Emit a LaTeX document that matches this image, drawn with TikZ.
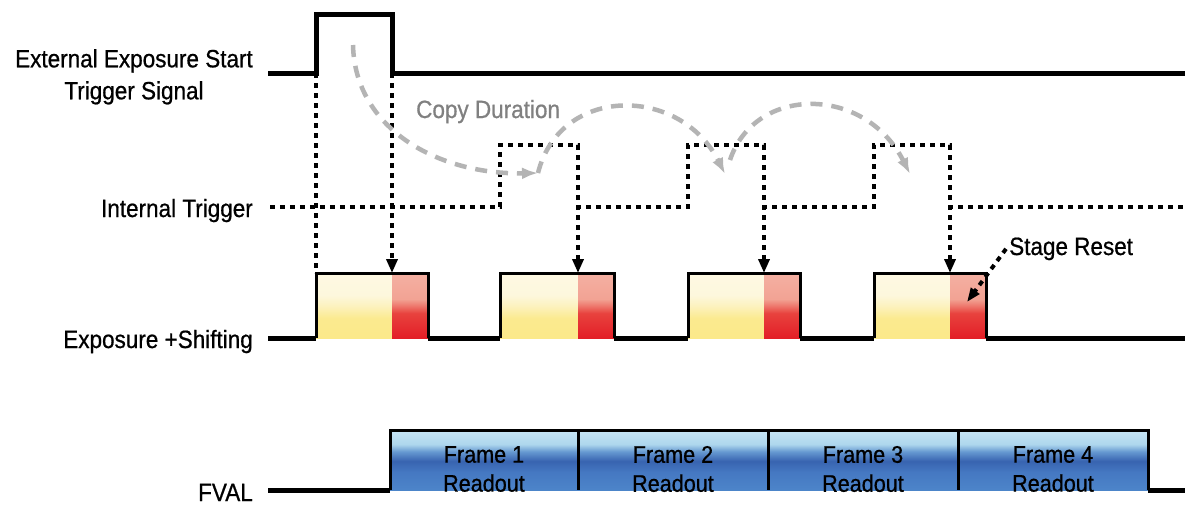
\documentclass[tikz,border=0pt]{standalone}
\usepackage{fontspec}
\setmainfont[FakeStretch=0.9,FakeBold=0.7]{Liberation Sans}
\usetikzlibrary{arrows.meta}
\definecolor{arcgray}{RGB}{180,180,180}
\definecolor{copytext}{RGB}{128,128,128}
\pgfdeclareverticalshading{yshade}{100bp}{rgb(0bp)=(0.984,0.914,0.541); rgb(25bp)=(0.984,0.914,0.541); rgb(40bp)=(0.984,0.918,0.560); rgb(50bp)=(0.988,0.949,0.753); rgb(58bp)=(0.992,0.969,0.866); rgb(75bp)=(0.996,0.976,0.890); rgb(100bp)=(0.996,0.976,0.890)}
\pgfdeclareverticalshading{rshade}{100bp}{rgb(0bp)=(0.890,0.118,0.149); rgb(25bp)=(0.890,0.118,0.149); rgb(44bp)=(0.910,0.259,0.243); rgb(50bp)=(0.933,0.478,0.431); rgb(55bp)=(0.949,0.639,0.580); rgb(75bp)=(0.957,0.690,0.635); rgb(100bp)=(0.957,0.690,0.635)}
\pgfdeclareverticalshading{bshade}{100bp}{rgb(0bp)=(0.300,0.520,0.790); rgb(25bp)=(0.300,0.520,0.790); rgb(40bp)=(0.270,0.470,0.760); rgb(49bp)=(0.220,0.390,0.690); rgb(57bp)=(0.400,0.600,0.820); rgb(63bp)=(0.680,0.840,0.930); rgb(75bp)=(0.780,0.900,0.960); rgb(100bp)=(0.780,0.900,0.960)}
\begin{document}
\begin{tikzpicture}[x=1pt,y=-1pt,
  lbl/.style={inner sep=0pt, font=\fontsize{25}{32}\selectfont, text=black},
  ftxt/.style={inner sep=0pt, align=center, font=\fontsize{24}{29}\selectfont, text=black},
  sig/.style={line width=5pt, black, line join=miter},
  boxline/.style={line width=3pt, black, line join=miter},
  dotline/.style={line width=4pt, black, dash pattern=on 5pt off 5pt},
  tip/.style={-{Triangle[length=14pt,width=11pt]}},
  copyarc/.style={line width=4.5pt, draw=arcgray, dash pattern=on 12pt off 9pt, -{Latex[length=16pt,width=12pt]}},
  cell/.style={anchor=north west, inner sep=0pt, outer sep=0pt, minimum height=65pt},
  ybox/.style={cell, shading=yshade},
  rbox/.style={cell, shading=rshade, minimum width=36pt},
  fbox/.style={anchor=north west, inner sep=0pt, outer sep=0pt, minimum height=60pt, shading=bshade}
]
\useasboundingbox (0,0) rectangle (1185,506);
\fill[white] (0,0) rectangle (1185,506);

% labels
\node[lbl, align=center, anchor=north east] (ext) at (253,49) {External Exposure Start\\Trigger Signal};
\node[lbl, anchor=base east] (int) at (253,217) {Internal Trigger};
\node[lbl, anchor=base east] (exs) at (253,348) {Exposure +Shifting};
\node[lbl, anchor=base east] (fval) at (253,501) {FVAL};
\node[lbl, anchor=base west, text=copytext] (cd) at (416,118) {Copy Duration};
\node[lbl, anchor=base west, inner sep=3pt] (sr) at (1006,255) {Stage Reset};

% exposure boxes
\node[ybox, minimum width=76pt] (y1) at (316,273) {};
\node[rbox] (r1) at (y1.north east) {};
\node[ybox, minimum width=78pt] (y2) at (500,273) {};
\node[rbox] (r2) at (y2.north east) {};
\node[ybox, minimum width=76pt] (y3) at (688,273) {};
\node[rbox] (r3) at (y3.north east) {};
\node[ybox, minimum width=76pt] (y4) at (874,273) {};
\node[rbox] (r4) at (y4.north east) {};

% frame boxes
\node[fbox, minimum width=188pt] (f1) at (390,430) {};
\node[fbox, minimum width=190pt] (f2) at (f1.north east) {};
\node[fbox, minimum width=190pt] (f3) at (f2.north east) {};
\node[fbox, minimum width=190pt] (f4) at (f3.north east) {};
\node[ftxt] (ft1) at ([yshift=-9pt]f1.center) {Frame 1\\Readout};
\node[ftxt] (ft2) at ([yshift=-9pt]f2.center) {Frame 2\\Readout};
\node[ftxt] (ft3) at ([yshift=-9pt]f3.center) {Frame 3\\Readout};
\node[ftxt] (ft4) at ([yshift=-9pt]f4.center) {Frame 4\\Readout};

% coordinates
\coordinate (e0) at (268,73);
\coordinate (e1) at (316,73);
\coordinate (e1t) at (316,14);
\coordinate (e2t) at (392,14);
\coordinate (e2) at (392,73);
\coordinate (eE) at (1185,73);
\coordinate (i0) at (270,207);
\coordinate (a1) at (500,207); \coordinate (b1) at (500,145);
\coordinate (c1) at (578,145); \coordinate (d1) at (578,207);
\coordinate (a2) at (688,207); \coordinate (b2) at (688,145);
\coordinate (c2) at (764,145); \coordinate (d2) at (764,207);
\coordinate (a3) at (874,207); \coordinate (b3) at (874,145);
\coordinate (c3) at (950,145); \coordinate (d3) at (950,207);
\coordinate (iE) at (1185,207);
\coordinate (x0) at (268,338);
\coordinate (xE) at (1185,338);
\coordinate (v0) at (268,490);
\coordinate (vE) at (1185,490);
\coordinate (srtip) at (967,302);
\coordinate (ca0) at (353,45);
\coordinate (ca1) at (538,173);
\coordinate (cb1) at (725,174);
\coordinate (cc0) at (730,160);
\coordinate (cc1) at (910,174);

% external trigger
\draw[sig] (e0) -- (e1) -- (e1t) -- (e2t) -- (e2) -- (eE);

% internal trigger
\draw[dotline] (i0) -- (a1) -- (b1) -- (c1) -- (d1) -- (a2) -- (b2) -- (c2) -- (d2) -- (a3) -- (b3) -- (c3) -- (d3) -- (iE);

% exposure trace
\draw[sig] (x0) -- (y1.south west);
\draw[boxline] (y1.south west) -- (y1.north west) -- (r1.north east) -- (r1.south east);
\draw[sig] (r1.south east) -- (y2.south west);
\draw[boxline] (y2.south west) -- (y2.north west) -- (r2.north east) -- (r2.south east);
\draw[sig] (r2.south east) -- (y3.south west);
\draw[boxline] (y3.south west) -- (y3.north west) -- (r3.north east) -- (r3.south east);
\draw[sig] (r3.south east) -- (y4.south west);
\draw[boxline] (y4.south west) -- (y4.north west) -- (r4.north east) -- (r4.south east);
\draw[sig] (r4.south east) -- (xE);

% FVAL trace
\draw[sig] (v0) -- (f1.south west);
\draw[boxline] (f1.south west) -- (f1.north west) -- (f4.north east) -- (f4.south east);
\draw[boxline] (f2.north west) -- (f2.south west);
\draw[boxline] (f3.north west) -- (f3.south west);
\draw[boxline] (f4.north west) -- (f4.south west);
\draw[sig] (f4.south east) -- (vE);

% vertical dotted connectors
\draw[dotline] (e1) -- (y1.north west);
\draw[dotline, tip] (e2) -- (r1.north west);
\draw[dotline, tip] (c1) -- (r2.north west);
\draw[dotline, tip] (c2) -- (r3.north west);
\draw[dotline, tip] (c3) -- (r4.north west);

% stage reset
\draw[dotline, -{Triangle[length=14pt,width=10pt]}] (sr.west) -- (srtip);

% copy duration arcs
\draw[copyarc] (ca0) .. controls (355,130) and (440,175) .. (ca1);
\draw[copyarc] (ca1) .. controls (560,85) and (680,85) .. (cb1);
\draw[copyarc] (cc0) .. controls (755,85) and (865,85) .. (cc1);
\end{tikzpicture}
\end{document}
